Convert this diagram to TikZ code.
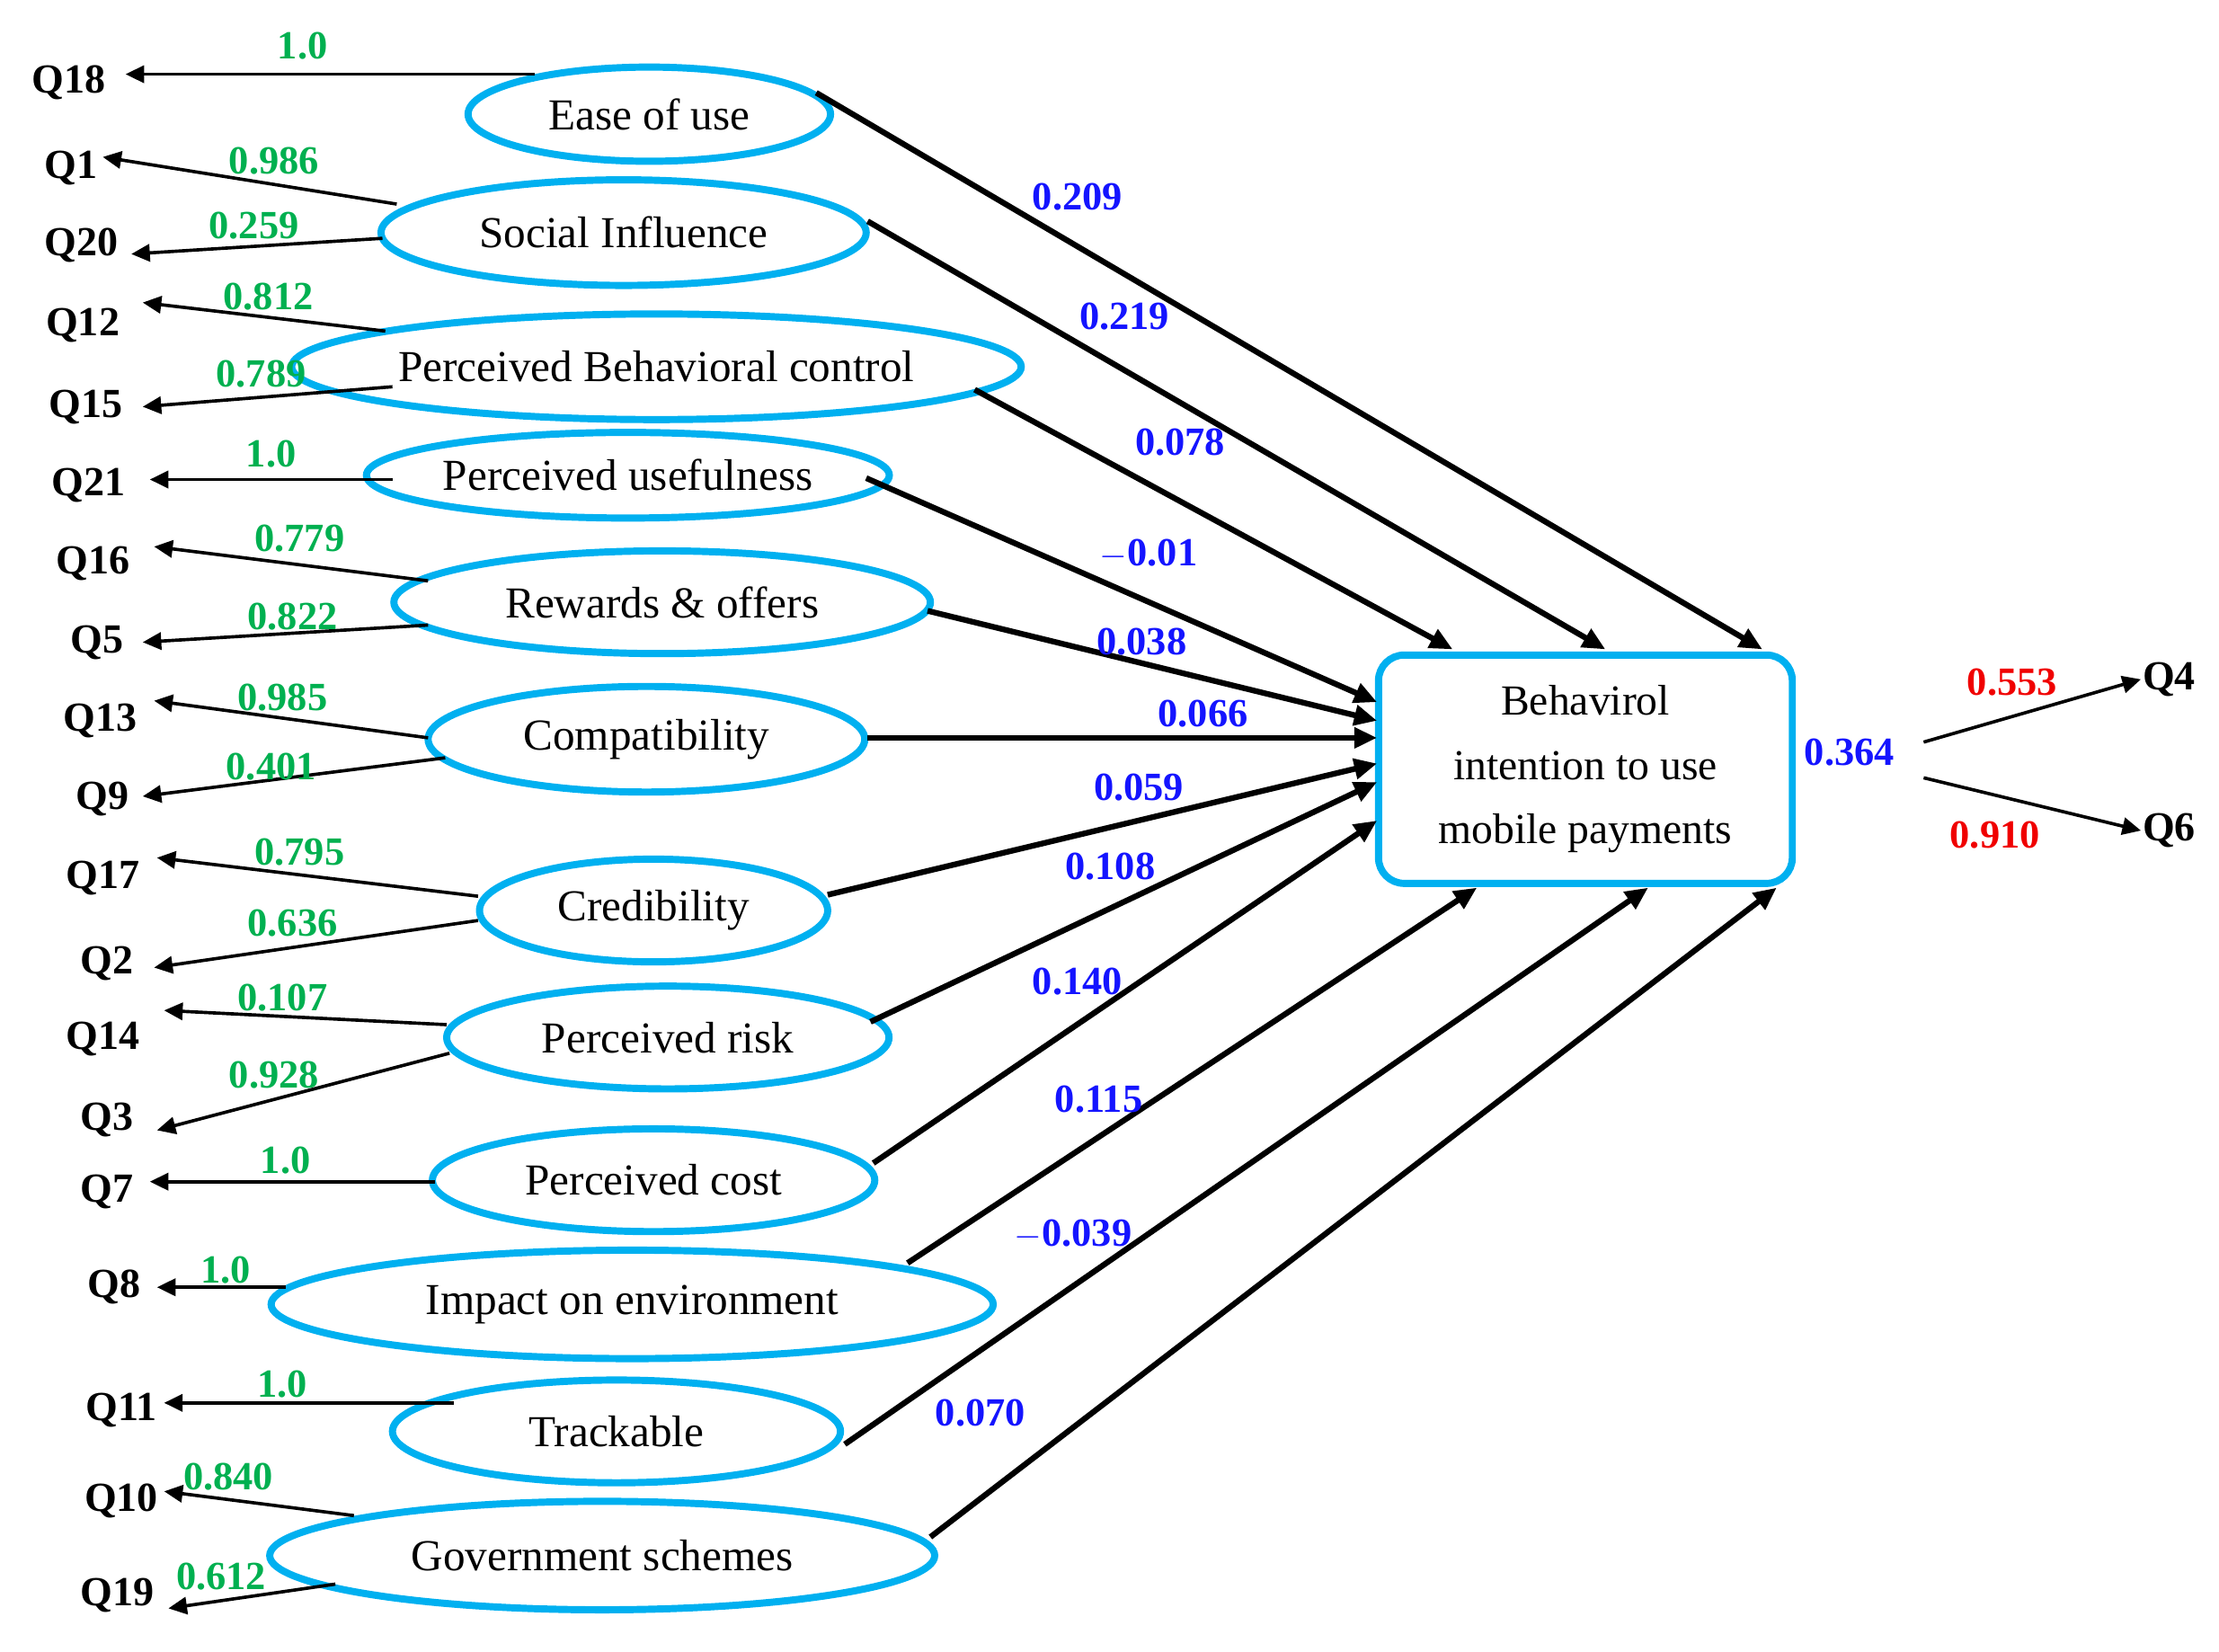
\documentclass[tikz,border=0pt]{standalone}
\usepackage{fontspec}
\setmainfont{Liberation Serif}
\usetikzlibrary{arrows.meta,shapes.geometric}
\definecolor{cy}{RGB}{0,176,240}
\definecolor{gr}{RGB}{0,176,80}
\definecolor{bl}{RGB}{20,20,255}
\definecolor{rd}{RGB}{240,0,0}
\begin{document}
\begin{tikzpicture}[x=1pt,y=-1pt,
 ell/.style={draw=cy,line width=5pt,ellipse,inner sep=0pt,font=\fontsize{31}{34}\selectfont},
 q/.style={font=\bfseries\fontsize{29}{32}\selectfont,inner sep=1pt},
 gl/.style={font=\bfseries\fontsize{28}{30}\selectfont,text=gr,inner sep=0pt},
 bll/.style={font=\bfseries\fontsize{28}{30}\selectfont,text=bl,inner sep=0pt},
 rl/.style={font=\bfseries\fontsize{28}{30}\selectfont,text=rd,inner sep=0pt},
 big/.style={line width=4pt,-{Triangle[length=16pt,width=14pt]}},
 sm/.style={line width=2.3pt,-{Triangle[length=13pt,width=12pt]}}]
\useasboundingbox (0,0) rectangle (1555,1157);
% ellipses
\newcommand\myEL[6]{\node[ell,minimum width=#4,minimum height=#5] (#1) at (#2,#3) {#6};}
\myEL{e1}{455}{80}{254}{66}{Ease of use}
\myEL{e2}{437}{163}{340}{74}{Social Influence}
\myEL{e3}{460}{257}{450}{74}{Perceived Behavioral control}
\myEL{e4}{440}{333}{330}{60}{Perceived usefulness}
\myEL{e5}{464}{422}{376}{72}{Rewards \& offers}
\myEL{e6}{453}{518}{306}{74}{Compatibility}
\myEL{e7}{458}{638}{244}{72}{Credibility}
\myEL{e8}{468}{727}{310}{72}{Perceived risk}
\myEL{e9}{458}{827}{310}{72}{Perceived cost}
\myEL{e10}{443}{914}{506}{76}{Impact on environment}
\myEL{e11}{432}{1003}{314}{72}{Trackable}
\myEL{e12}{422}{1090}{466}{76}{Government schemes}
\node[draw=cy,line width=5pt,rounded corners=18pt,minimum width=290,minimum height=160,align=center,
 font=\fontsize{30}{45}\selectfont] (t) at (1111,539) {Behavirol\\intention to use\\mobile payments};
% right arrows
\newcommand\myAR[5]{\coordinate (s#1) at (#2,#3); \coordinate (d#1) at (#4,#5); \draw[big] (s#1) -- (d#1);}
\myAR{1}{572}{65}{1235}{455}
\myAR{2}{608}{155}{1125}{455}
\myAR{3}{683}{273}{1018}{455}
\myAR{4}{607}{335}{965}{492}
\myAR{5}{650}{428}{965}{505}
\myAR{6}{608}{517}{965}{517}
\myAR{7}{580}{627}{965}{535}
\myAR{8}{610}{716}{965}{548}
\myAR{9}{612}{815}{965}{575}
\myAR{10}{636}{885}{1035}{622}
\myAR{11}{592}{1012}{1155}{622}
\myAR{12}{652}{1077}{1245}{622}
\foreach \t/\x/\y in {0.209/755/138,0.219/788/222,0.078/827/310,$-$0.01/805/388,0.038/800/450,0.066/843/500,0.059/798/552,0.108/778/607,0.140/755/688,0.115/770/770,$-$0.039/752/865,0.070/687/990,0.364/1296/527}
  \node[bll] at (\x,\y) {\t};
% outputs
\node[q] (q4) at (1520,476) {Q4};
\node[q] (q6) at (1520,582) {Q6};
\coordinate (o1) at (1348,520); \coordinate (o2) at (1348,545);
\draw[sm] (o1) -- (q4.west);
\draw[sm] (o2) -- (q6.west);
\node[rl] at (1410,478) {0.553};
\node[rl] at (1398,585) {0.910};
% left
\newcommand\myLQ[9]{\node[q] (#1) at (#2,#3) {#1}; \coordinate (c#1) at (#4,#5); \coordinate (f#1) at (#6,#7); \draw[sm] (c#1) -- (f#1); \node[gl] at (#8,#9) {\csname v#1\endcsname};}
\expandafter\def\csname vQ18\endcsname{1.0}
\expandafter\def\csname vQ1\endcsname{0.986}
\expandafter\def\csname vQ20\endcsname{0.259}
\expandafter\def\csname vQ12\endcsname{0.812}
\expandafter\def\csname vQ15\endcsname{0.789}
\expandafter\def\csname vQ21\endcsname{1.0}
\expandafter\def\csname vQ16\endcsname{0.779}
\expandafter\def\csname vQ5\endcsname{0.822}
\expandafter\def\csname vQ13\endcsname{0.985}
\expandafter\def\csname vQ9\endcsname{0.401}
\expandafter\def\csname vQ17\endcsname{0.795}
\expandafter\def\csname vQ2\endcsname{0.636}
\expandafter\def\csname vQ14\endcsname{0.107}
\expandafter\def\csname vQ3\endcsname{0.928}
\expandafter\def\csname vQ7\endcsname{1.0}
\expandafter\def\csname vQ8\endcsname{1.0}
\expandafter\def\csname vQ11\endcsname{1.0}
\expandafter\def\csname vQ10\endcsname{0.840}
\expandafter\def\csname vQ19\endcsname{0.612}
\myLQ{Q18}{48}{58}{375}{52}{88}{52}{212}{32}
\myLQ{Q1}{50}{118}{278}{143}{72}{110}{192}{113}
\myLQ{Q20}{57}{172}{268}{167}{92}{178}{178}{158}
\myLQ{Q12}{58}{228}{270}{232}{100}{212}{188}{208}
\myLQ{Q15}{60}{285}{275}{271}{100}{285}{183}{262}
\myLQ{Q21}{62}{340}{275}{336}{105}{336}{190}{318}
\myLQ{Q16}{65}{395}{300}{407}{108}{383}{210}{377}
\myLQ{Q5}{68}{450}{300}{438}{100}{450}{205}{432}
\myLQ{Q13}{70}{505}{300}{517}{108}{491}{198}{489}
\myLQ{Q9}{72}{560}{312}{531}{100}{558}{190}{537}
\myLQ{Q17}{72}{615}{335}{628}{110}{601}{210}{597}
\myLQ{Q2}{75}{675}{335}{645}{108}{678}{205}{647}
\myLQ{Q14}{72}{728}{313}{718}{115}{708}{198}{699}
\myLQ{Q3}{75}{785}{315}{738}{110}{792}{192}{753}
\myLQ{Q7}{75}{835}{305}{828}{105}{828}{200}{813}
\myLQ{Q8}{80}{902}{200}{902}{110}{902}{158}{890}
\myLQ{Q11}{85}{988}{318}{983}{115}{983}{198}{970}
\myLQ{Q10}{85}{1052}{248}{1062}{115}{1045}{160}{1035}
\myLQ{Q19}{82}{1118}{235}{1110}{118}{1127}{155}{1105}
\end{tikzpicture}
\end{document}
